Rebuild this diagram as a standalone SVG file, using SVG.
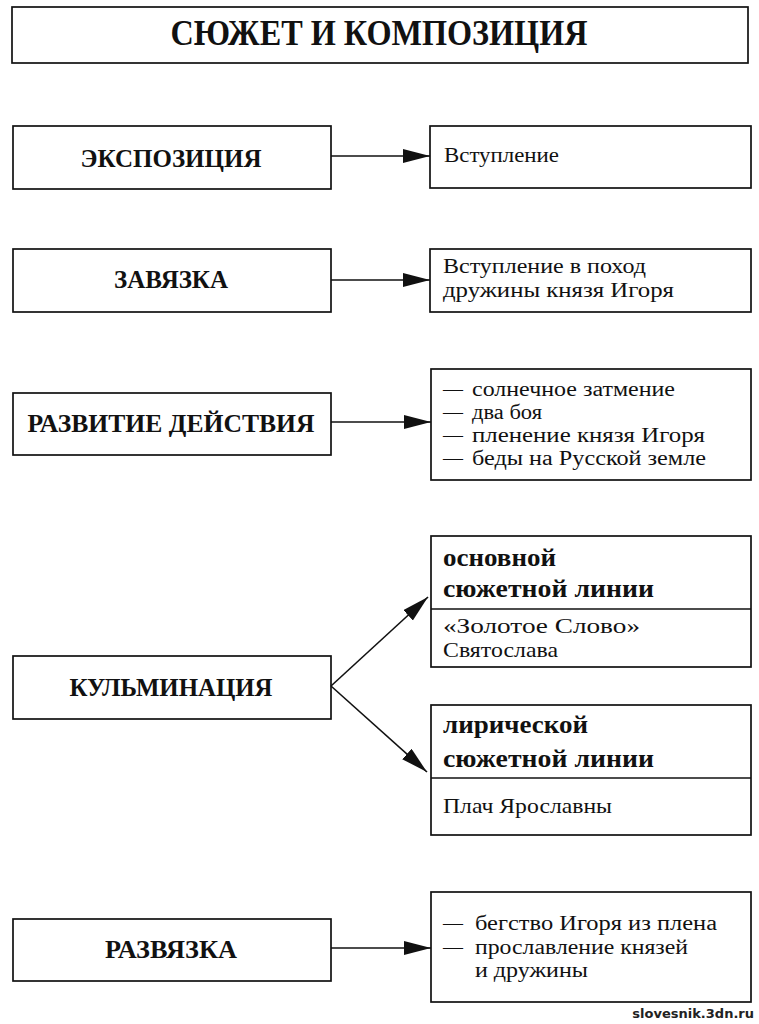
<svg xmlns="http://www.w3.org/2000/svg" width="759" height="1024" viewBox="0 0 759 1024">
<style>
.box{fill:#fff;stroke:#111;stroke-width:1.7}
.div{stroke:#111;stroke-width:1.5}
.h{font-family:"Liberation Serif","Times New Roman",serif;font-weight:bold;fill:#111;font-size:25px;text-anchor:middle}
.ttl{font-size:36px}
.t{font-family:"Liberation Serif","Times New Roman",serif;fill:#111;font-size:21px}
.s{font-size:20px}
.b{font-family:"Liberation Serif","Times New Roman",serif;font-weight:bold;fill:#111;font-size:25px}
.con{stroke:#111;stroke-width:1.6;fill:none;marker-end:url(#ah)}
.wm{font-family:"DejaVu Sans",sans-serif;font-weight:bold;font-size:13px;fill:#222;stroke:#fff;stroke-width:2.5;paint-order:stroke;text-anchor:end}
</style>
<defs>
<marker id="ah" markerUnits="userSpaceOnUse" markerWidth="28" markerHeight="16" refX="27" refY="7" orient="auto">
<path d="M0,0 L27,7 L0,14 Z" fill="#111"/>
</marker>
</defs>
<rect width="759" height="1024" fill="#fff"/>

<g id="title">
<rect class="box" x="12" y="7" width="736" height="56"/>
<text class="h ttl" x="379" y="45" textLength="417" lengthAdjust="spacingAndGlyphs">СЮЖЕТ И КОМПОЗИЦИЯ</text>
</g>

<g id="exposition">
<rect class="box" x="13" y="126" width="318" height="63"/>
<text class="h" x="171" y="167" textLength="181" lengthAdjust="spacingAndGlyphs">ЭКСПОЗИЦИЯ</text>
</g>
<g id="exposition-detail">
<rect class="box" x="430" y="126" width="321" height="62"/>
<text class="t" x="444" y="162" textLength="115" lengthAdjust="spacingAndGlyphs">Вступление</text>
</g>

<g id="zavyazka">
<rect class="box" x="13" y="249" width="318" height="63"/>
<text class="h" x="171" y="288" textLength="114" lengthAdjust="spacingAndGlyphs">ЗАВЯЗКА</text>
</g>
<g id="zavyazka-detail">
<rect class="box" x="430" y="249" width="321" height="63"/>
<text class="t" x="443" y="273" textLength="203" lengthAdjust="spacingAndGlyphs">Вступление в поход</text>
<text class="t" x="443" y="297" textLength="231" lengthAdjust="spacingAndGlyphs">дружины князя Игоря</text>
</g>

<g id="razvitie">
<rect class="box" x="13" y="393" width="318" height="62"/>
<text class="h" x="171" y="432" textLength="287" lengthAdjust="spacingAndGlyphs">РАЗВИТИЕ ДЕЙСТВИЯ</text>
</g>
<g id="razvitie-detail">
<rect class="box" x="431" y="369" width="320" height="111"/>
<text class="t s" y="396"><tspan x="443">—</tspan><tspan x="472" textLength="203" lengthAdjust="spacingAndGlyphs">солнечное затмение</tspan></text>
<text class="t s" y="419"><tspan x="443">—</tspan><tspan x="472" textLength="70" lengthAdjust="spacingAndGlyphs">два боя</tspan></text>
<text class="t s" y="442"><tspan x="443">—</tspan><tspan x="472" textLength="233" lengthAdjust="spacingAndGlyphs">пленение князя Игоря</tspan></text>
<text class="t s" y="465"><tspan x="443">—</tspan><tspan x="472" textLength="234" lengthAdjust="spacingAndGlyphs">беды на Русской земле</tspan></text>
</g>

<g id="kulminaciya">
<rect class="box" x="13" y="656" width="318" height="63"/>
<text class="h" x="171" y="696" textLength="203" lengthAdjust="spacingAndGlyphs">КУЛЬМИНАЦИЯ</text>
</g>
<g id="main-line">
<rect class="box" x="431" y="536" width="320" height="131"/>
<line class="div" x1="431" y1="609" x2="751" y2="609"/>
<text class="b" x="443" y="566" textLength="113" lengthAdjust="spacingAndGlyphs">основной</text>
<text class="b" x="443" y="597" textLength="211" lengthAdjust="spacingAndGlyphs">сюжетной линии</text>
<text class="t" x="443" y="633" textLength="197" lengthAdjust="spacingAndGlyphs">«Золотое Слово»</text>
<text class="t" x="443" y="657" textLength="115" lengthAdjust="spacingAndGlyphs">Святослава</text>
</g>
<g id="lyric-line">
<rect class="box" x="431" y="705" width="320" height="130"/>
<line class="div" x1="431" y1="778" x2="751" y2="778"/>
<text class="b" x="443" y="733" textLength="145" lengthAdjust="spacingAndGlyphs">лирической</text>
<text class="b" x="443" y="767" textLength="211" lengthAdjust="spacingAndGlyphs">сюжетной линии</text>
<text class="t" x="443" y="813" textLength="169" lengthAdjust="spacingAndGlyphs">Плач Ярославны</text>
</g>

<g id="razvyazka">
<rect class="box" x="13" y="919" width="318" height="62"/>
<text class="h" x="171" y="958" textLength="132" lengthAdjust="spacingAndGlyphs">РАЗВЯЗКА</text>
</g>
<g id="razvyazka-detail">
<rect class="box" x="431" y="892" width="320" height="110"/>
<text class="t s" y="930"><tspan x="443">—</tspan><tspan x="475" textLength="242" lengthAdjust="spacingAndGlyphs">бегство Игоря из плена</tspan></text>
<text class="t s" y="953.5"><tspan x="443">—</tspan><tspan x="475" textLength="213" lengthAdjust="spacingAndGlyphs">прославление князей</tspan></text>
<text class="t s" x="475" y="977" textLength="113" lengthAdjust="spacingAndGlyphs">и дружины</text>
</g>

<g id="connectors">
<line class="con" x1="331" y1="156" x2="430" y2="156"/>
<line class="con" x1="331" y1="280" x2="430" y2="280"/>
<line class="con" x1="331" y1="422" x2="431" y2="422"/>
<line class="con" x1="331" y1="686" x2="428" y2="597"/>
<line class="con" x1="331" y1="686" x2="427" y2="772"/>
<line class="con" x1="331" y1="948" x2="431" y2="948"/>
</g>

<text class="wm" x="754" y="1018">slovesnik.3dn.ru</text>
</svg>
